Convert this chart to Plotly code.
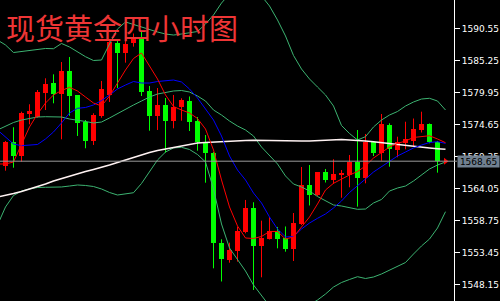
import plotly.graph_objects as go

# ---- data ----
title_text = "现货黄金四小时图"
last_price = 1568.65
y_ticks = [1590.55, 1585.25, 1579.95, 1574.65, 1569.35, 1564.05, 1558.75, 1553.45, 1548.15]

opens = [1567.91, 1571.80, 1569.51, 1576.52, 1575.97, 1579.94, 1581.60, 1579.83, 1583.59, 1579.57,
         1575.14, 1572.04, 1576.14, 1579.62, 1588.28, 1586.62, 1588.18, 1589.27, 1580.33, 1576.14,
         1577.96, 1575.36, 1577.58, 1578.62, 1575.31, 1571.88, 1569.96, 1555.05, 1552.29, 1553.83,
         1556.98, 1560.85, 1554.66, 1555.77, 1557.09, 1555.85, 1554.06, 1558.26, 1564.71, 1563.06,
         1566.81, 1565.54, 1566.37, 1566.37, 1568.57, 1565.95, 1571.88, 1570.06, 1574.65, 1570.51,
         1571.61, 1572.04, 1573.82, 1574.81, 1571.78]
highs = [1572.00, 1574.27, 1576.85, 1578.08, 1580.44, 1582.38, 1583.04, 1585.08, 1585.91, 1579.60,
         1575.47, 1576.59, 1581.94, 1588.72, 1588.72, 1588.72, 1589.80, 1590.05, 1581.11, 1580.77,
         1579.12, 1579.62, 1579.07, 1579.37, 1575.97, 1572.99, 1570.18, 1555.72, 1555.16, 1557.81,
         1562.23, 1561.85, 1558.80, 1559.41, 1557.76, 1557.84, 1560.07, 1567.69, 1568.02, 1566.86,
         1567.36, 1568.97, 1567.19, 1569.68, 1573.82, 1573.16, 1572.00, 1576.47, 1574.93, 1572.71,
         1575.19, 1575.72, 1576.85, 1574.90, 1572.00]
lows = [1567.08, 1567.57, 1568.57, 1574.76, 1575.85, 1577.13, 1578.24, 1572.28, 1576.19, 1572.83,
        1570.79, 1571.34, 1575.85, 1578.46, 1580.77, 1584.97, 1587.62, 1579.45, 1573.70, 1573.82,
        1570.06, 1574.10, 1575.36, 1573.65, 1570.39, 1565.09, 1550.91, 1548.73, 1551.84, 1552.01,
        1556.71, 1547.32, 1549.42, 1555.68, 1554.22, 1553.66, 1552.12, 1558.09, 1561.32, 1562.89,
        1565.12, 1564.88, 1562.60, 1564.33, 1561.12, 1564.99, 1569.51, 1568.73, 1567.74, 1569.30,
        1570.62, 1571.12, 1573.40, 1571.61, 1566.75]
closes = [1571.83, 1569.51, 1576.64, 1576.97, 1580.11, 1581.44, 1579.78, 1583.59, 1579.45, 1575.06,
          1572.04, 1576.30, 1580.61, 1588.44, 1586.62, 1588.06, 1589.14, 1580.16, 1576.14, 1577.96,
          1575.36, 1577.63, 1578.79, 1575.19, 1571.88, 1569.96, 1555.05, 1552.40, 1553.94, 1557.09,
          1560.85, 1554.66, 1555.88, 1557.09, 1555.77, 1554.11, 1558.47, 1564.71, 1563.06, 1566.81,
          1565.54, 1566.53, 1566.61, 1568.57, 1565.92, 1571.91, 1570.06, 1574.81, 1570.62, 1571.78,
          1572.33, 1573.98, 1574.81, 1571.88, 1568.65]

# indicator lines, one value per bar from bar -1 to bar 55
bb_upper = [1588.72, 1587.90, 1586.65, 1586.82, 1587.07, 1587.23, 1587.32, 1587.28, 1588.15, 1587.57,
            1586.74, 1585.96, 1585.33, 1585.41, 1588.06, 1590.55, 1591.71, 1591.29, 1590.80, 1590.38,
            1590.05, 1589.72, 1589.55, 1589.72, 1589.88, 1590.13, 1591.37, 1592.87, 1594.85, 1596.34,
            1597.01, 1597.34, 1597.01, 1596.01, 1594.36, 1592.04, 1589.39, 1586.16, 1583.92, 1582.27,
            1580.94, 1579.62, 1577.79, 1574.56, 1573.24, 1572.16, 1572.71, 1574.32, 1575.47, 1576.30,
            1576.88, 1577.79, 1578.46, 1578.95, 1579.07, 1578.62, 1577.13]
bb_middle = [1573.82, 1574.48, 1575.06, 1575.47, 1575.72, 1575.97, 1576.02, 1576.02, 1575.97, 1575.64,
             1575.47, 1575.23, 1574.98, 1575.14, 1575.81, 1576.55, 1577.30, 1577.96, 1578.62, 1579.28,
             1579.78, 1580.03, 1580.28, 1580.36, 1580.11, 1579.45, 1578.62, 1577.13, 1576.30, 1575.31,
             1574.48, 1573.82, 1572.82, 1571.00, 1569.68, 1568.19, 1566.20, 1564.87, 1564.38, 1563.71,
             1562.80, 1562.06, 1561.40, 1561.23, 1560.90, 1560.68, 1560.73, 1561.73, 1562.31, 1563.71,
             1564.21, 1564.54, 1565.37, 1566.37, 1567.36, 1568.02, 1568.52]
bb_lower = [1558.08, 1561.07, 1562.97, 1563.71, 1564.05, 1564.29, 1564.33, 1564.33, 1564.38, 1564.54,
            1564.71, 1564.63, 1564.46, 1564.05, 1563.47, 1563.05, 1563.22, 1563.43, 1564.96, 1566.86,
            1568.85, 1570.17, 1570.84, 1570.95, 1570.59, 1569.76, 1568.52, 1564.05, 1558.25, 1554.27,
            1552.45, 1550.46, 1548.15, 1546.32, 1544.67, 1543.34, 1542.35, 1542.68, 1543.67, 1544.83,
            1545.66, 1546.65, 1547.81, 1548.56, 1549.06, 1549.52, 1549.22, 1549.47, 1549.97, 1550.63,
            1551.29, 1551.87, 1553.28, 1554.61, 1555.76, 1557.59, 1560.29]
ma_red = [1568.19, 1568.19, 1568.52, 1571.42, 1574.32, 1576.47, 1578.29, 1579.62, 1580.36, 1580.89,
          1580.28, 1579.28, 1578.29, 1577.79, 1579.45, 1581.60, 1583.76, 1585.66, 1586.57, 1584.42,
          1582.27, 1579.62, 1577.71, 1577.13, 1576.64, 1575.72, 1573.98, 1570.51, 1565.54, 1561.07,
          1557.92, 1555.93, 1555.85, 1556.18, 1557.01, 1557.01, 1555.76, 1556.10, 1557.67, 1559.41,
          1561.56, 1563.88, 1564.99, 1565.70, 1566.37, 1566.94, 1567.86, 1569.18, 1570.09, 1571.00,
          1571.58, 1572.00, 1572.58, 1572.74, 1572.87, 1572.33, 1571.72]
ma_blue = [1573.82, 1572.66, 1571.50, 1571.22, 1571.28, 1571.42, 1572.33, 1573.49, 1574.98, 1576.64,
           1577.41, 1577.55, 1577.96, 1578.70, 1579.62, 1580.61, 1581.27, 1581.85, 1581.60, 1581.60,
           1581.85, 1582.02, 1582.10, 1581.77, 1580.61, 1579.12, 1577.30, 1575.47, 1572.82, 1569.51,
           1567.19, 1565.54, 1563.38, 1561.73, 1559.41, 1557.42, 1556.10, 1556.18, 1557.42, 1558.41,
           1559.19, 1559.91, 1560.90, 1562.06, 1563.47, 1564.54, 1565.70, 1566.86, 1567.77, 1568.60,
           1569.51, 1570.17, 1570.84, 1571.33, 1571.75, 1571.88, 1571.61]
ma_white = [1562.72, 1562.97, 1563.30, 1563.63, 1564.05, 1564.38, 1564.87, 1565.37, 1565.79, 1566.20,
            1566.61, 1566.94, 1567.28, 1567.61, 1568.02, 1568.44, 1568.85, 1569.35, 1569.76, 1570.09,
            1570.42, 1570.67, 1571.00, 1571.25, 1571.50, 1571.67, 1571.75, 1571.83, 1571.91, 1572.00,
            1572.00, 1572.08, 1572.11, 1572.08, 1572.00, 1572.00, 1572.00, 1572.00, 1572.00, 1572.00,
            1572.08, 1572.16, 1572.24, 1572.24, 1572.16, 1572.11, 1572.00, 1571.88, 1571.72, 1571.58,
            1571.42, 1571.25, 1571.08, 1570.95, 1570.84, 1570.72, 1570.62]

# ---- build ----
bars = list(range(len(opens)))
line_x = list(range(-1, len(bb_upper) - 1))

UP, DOWN = "#FF0000", "#00FF00"
fig = go.Figure()

for is_up, col in ((True, UP), (False, DOWN)):
    idx = [i for i in bars if (closes[i] >= opens[i]) == is_up]
    # wicks
    wx, wy = [], []
    for i in idx:
        wx += [i, i, None]
        wy += [lows[i], highs[i], None]
    fig.add_trace(go.Scatter(x=wx, y=wy, mode="lines", line=dict(color=col, width=1),
                             hoverinfo="skip", showlegend=False))
    # bodies
    fig.add_trace(go.Bar(x=idx,
                         y=[max(abs(closes[i] - opens[i]), 0.17) for i in idx],
                         base=[min(opens[i], closes[i]) for i in idx],
                         width=0.62, marker=dict(color=col, line=dict(width=0)),
                         showlegend=False))

BAND = "#3CB371"
for vals, col, w in ((bb_upper, BAND, 1), (bb_middle, BAND, 1), (bb_lower, BAND, 1),
                     (ma_white, "#FFF2F2", 1.6), (ma_blue, "#0000FF", 1), (ma_red, "#FF0000", 1)):
    fig.add_trace(go.Scatter(x=line_x, y=vals, mode="lines", line=dict(color=col, width=w),
                             hoverinfo="skip", showlegend=False))

# last price marker
fig.add_trace(go.Scatter(x=[line_x[-1]], y=[last_price], mode="markers",
                         marker=dict(symbol="triangle-right", size=6, color="#FF0000"),
                         showlegend=False, cliponaxis=False))

fig.add_shape(type="line", xref="paper", yref="y", x0=0, x1=1 + 3 / 454,
              y0=last_price, y1=last_price, line=dict(color="#9A9A9A", width=1), layer="above")

fig.add_annotation(xref="paper", yref="y", x=1, y=last_price, xanchor="left", yanchor="middle",
                   xshift=3, text=f"{last_price:.2f}", showarrow=False, bgcolor="#708090",
                   width=41, height=11, borderpad=0,
                   font=dict(family="DejaVu Sans", size=9, color="#000000"))

fig.add_annotation(xref="paper", yref="paper", x=4 / 454, y=1 - 27 / 301, xanchor="left",
                   yanchor="middle", text=title_text, showarrow=False,
                   font=dict(family="Noto Sans CJK SC", size=29, color="#EE3535"))

fig.update_layout(
    width=500, height=301, margin=dict(l=0, r=46, t=0, b=0, pad=0),
    paper_bgcolor="#000000", plot_bgcolor="#000000", barmode="overlay", bargap=0,
    showlegend=False,
    xaxis=dict(range=[-0.6875, 56.0625], visible=False, fixedrange=True),
    yaxis=dict(range=[1545.495, 1595.35], side="right", tickvals=y_ticks,
               ticktext=[f"{v:.2f}" for v in y_ticks], ticks="outside", ticklen=5,
               tickcolor="#FFFFFF", showline=True, linecolor="#FFFFFF", linewidth=1,
               showgrid=False, zeroline=False,
               tickfont=dict(family="DejaVu Sans", size=9, color="#FFFFFF")),
)

fig.write_html("out.html")
